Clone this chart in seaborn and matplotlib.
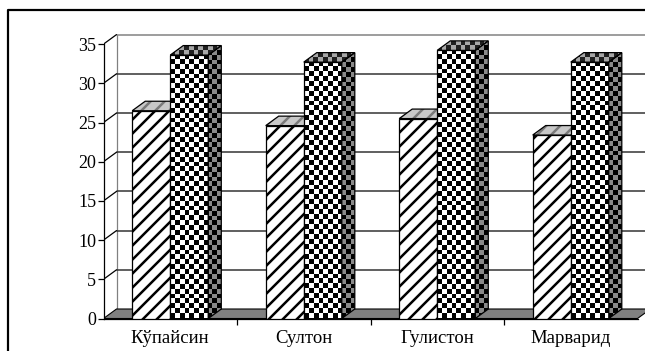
import numpy as np
import pandas as pd
import matplotlib
matplotlib.use("Agg")
import matplotlib.pyplot as plt
from matplotlib.patches import Polygon
from matplotlib.lines import Line2D
from matplotlib.colors import to_rgb
import seaborn as sns

categories = ['Кўпайсин', 'Султон', 'Гулистон', 'Марварид']
series_names = ['I', 'II']
values_hatched = [26.5, 24.6, 25.5, 23.4]
values_checked = [33.6, 32.7, 34.2, 32.7]
y_ticks = [0, 5, 10, 15, 20, 25, 30, 35]

# output resolution; the hatch spacing follows the dpi
DPI = 84
W_PX, H_PX = 645, 351


def pt(px):
    """Convert a size in output pixels to points."""
    return px * 72 / DPI


sns.set_theme(style='white')
plt.rcParams['font.family'] = ['Liberation Serif', 'DejaVu Serif']
plt.rcParams['hatch.linewidth'] = pt(2.5)

df = pd.DataFrame({
    'sort': categories * 2,
    'value': values_hatched + values_checked,
    'series': [series_names[0]] * len(categories) + [series_names[1]] * len(categories),
})

fig = plt.figure(figsize=(W_PX / DPI, H_PX / DPI), dpi=DPI)
ax = fig.add_axes([103.5 / W_PX, 32.5 / H_PX, 541.5 / W_PX, 288.5 / H_PX])

PX_X = 133.5   # pixels per category
PX_Y = 7.84    # pixels per value unit
DX = 13 / PX_X  # oblique depth, x
DY = 9.5 / PX_Y  # oblique depth, y
SQ = 4.9       # checker square, pixels
LW = pt(1.25)

XLIM = (-0.5, -0.5 + 541.5 / PX_X)
YLIM = (0, 288.5 / PX_Y)


def checker(clip, extent, nx, ny, c1, c2, z):
    jj, ii = np.meshgrid(np.arange(nx), np.arange(ny))
    mask = ((ii + jj) % 2)[..., None]
    img = np.where(mask == 1, np.array(to_rgb(c1)), np.array(to_rgb(c2)))
    im = ax.imshow(img, extent=extent, aspect='auto', interpolation='nearest', zorder=z)
    im.set_clip_path(clip)
    return im


# back wall, side wall and floor
xb = -0.5 + DX
ax.plot([xb, xb], [DY, 35 + DY], color='#808080', lw=LW, zorder=0.5)
for v in y_ticks[1:]:
    ax.plot([xb, 10], [v + DY, v + DY], color='#808080' if v == 35 else '#303030',
            lw=pt(1.5), zorder=0.5)
    ax.plot([-0.5, xb], [v, v + DY], color='black', lw=LW, zorder=0.5)

n = len(categories)
floor = Polygon([(-0.5, 0), (n - 0.5, 0), (n - 0.5 + DX, DY), (-0.5 + DX, DY)],
                closed=True, facecolor='#808080', edgecolor='black', lw=pt(1.1), zorder=1)
ax.add_patch(floor)

sns.barplot(data=df, x='sort', y='value', hue='series', palette=['white', 'white'],
            width=0.57, gap=0, edgecolor='black', linewidth=LW, saturation=1,
            errorbar=None, legend=False, ax=ax, zorder=2)

hatched, checked = ax.containers[0], ax.containers[1]

for bar in hatched:
    x0, w, h = bar.get_x(), bar.get_width(), bar.get_height()
    bar.set_hatch('//')
    bar.set_zorder(2)
    top_pts = [(x0, h), (x0 + w, h), (x0 + w + DX, h + DY), (x0 + DX, h + DY)]
    ax.add_patch(Polygon(top_pts, closed=True, facecolor='#c8c8c8', edgecolor='#7a7a7a',
                         hatch='//', lw=0, zorder=2.2))
    ax.add_patch(Polygon(top_pts, closed=True, facecolor='none', edgecolor='black',
                         lw=LW, zorder=2.3))

for bar in checked:
    x0, w, h = bar.get_x(), bar.get_width(), bar.get_height()
    bar.set_facecolor('none')
    bar.set_zorder(3.1)
    nx = int(round(w * PX_X / SQ))
    ny = int(round(h * PX_Y / SQ))
    checker(bar, (x0, x0 + w, 0, h), nx, ny, 'black', 'white', 3.0)

    top_pts = [(x0, h), (x0 + w, h), (x0 + w + DX, h + DY), (x0 + DX, h + DY)]
    top = Polygon(top_pts, closed=True, facecolor='none', edgecolor='black', lw=LW, zorder=3.3)
    ax.add_patch(top)
    checker(top, (x0, x0 + w + DX, h, h + DY), nx + 3, 2, '#202020', '#a8a8a8', 3.2)

    x1 = x0 + w
    side_pts = [(x1, 0), (x1 + DX, DY), (x1 + DX, h + DY), (x1, h)]
    side = Polygon(side_pts, closed=True, facecolor='none', edgecolor='black', lw=LW, zorder=3.3)
    ax.add_patch(side)
    checker(side, (x1, x1 + DX, 0, h + DY), 3, int(round((h + DY) * PX_Y / SQ)),
            'black', '#8a8a8a', 3.2)

# axes, ticks and labels
for s in ['top', 'right']:
    ax.spines[s].set_visible(False)
ax.spines['left'].set_bounds(0, 35)
ax.spines['bottom'].set_bounds(-0.5, n - 0.5)
for s in ['left', 'bottom']:
    ax.spines[s].set_color('black')
    ax.spines[s].set_linewidth(LW)
    ax.spines[s].set_zorder(1.5)

ax.set_yticks(y_ticks)
ax.set_yticklabels([str(v) for v in y_ticks])
ax.tick_params(axis='y', left=True, length=pt(6), width=LW, color='black', pad=pt(1.4),
               labelsize=pt(18), labelcolor='black')
ax.set_xticks(range(n))
ax.set_xticklabels(categories)
ax.set_xticks([0.5, 1.5, 2.5], minor=True)
ax.tick_params(axis='x', which='major', bottom=False, length=0, pad=pt(11.8),
               labelsize=pt(18.75), labelcolor='black')
ax.tick_params(axis='x', which='minor', bottom=True, length=pt(5.5), width=LW, color='black')
ax.set_xlabel('')
ax.set_ylabel('')
ax.grid(False)
ax.set_facecolor('white')
ax.set_xlim(*XLIM)
ax.set_ylim(*YLIM)

# outer frame
fig.add_artist(Line2D([7.5 / W_PX, 7.5 / W_PX, 1.0], [0.0, 1 - 10 / H_PX, 1 - 10 / H_PX],
                      transform=fig.transFigure, color='black', lw=pt(2.2)))

fig.savefig('out.png', dpi=DPI, facecolor='white')
